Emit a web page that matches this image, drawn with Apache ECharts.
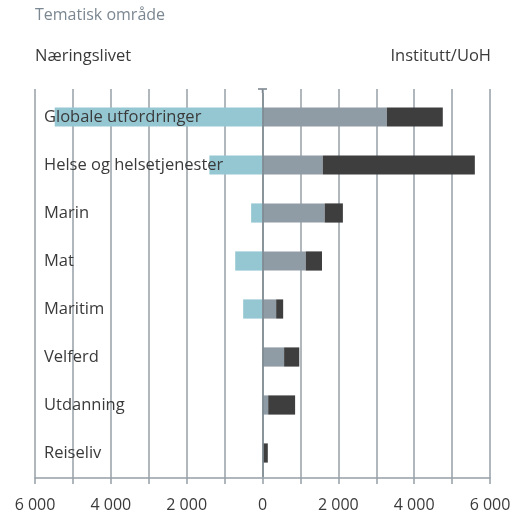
<!DOCTYPE html>
<html><head><meta charset="utf-8">
<script src="https://cdn.jsdelivr.net/npm/echarts@6/dist/echarts.min.js"></script>
<style>html,body{margin:0;padding:0;background:#fff}#c{width:514px;height:513px}</style>
</head><body><div id="c"></div>
<script>
const categories = ['Globale utfordringer','Helse og helsetjenester','Marin','Mat','Maritim','Velferd','Utdanning','Reiseliv'];
const naeringslivet = [-5480, -1400, -300, -720, -510, 0, 0, 0];
const institutt = [3280, 1590, 1640, 1140, 360, 570, 150, 20];
const uoh = [1475, 4010, 480, 430, 185, 400, 710, 120];
const tickLabels = ['6 000','4 000','2 000','0','2 000','4 000','6 000'];
const FONT = 'Open Sans';
const chart = echarts.init(document.getElementById('c'));
const fmt = v => {
  if (Math.abs(v) % 2000 !== 0) return '';
  return tickLabels[(v + 6000) / 2000];
};
const LC = '#97a0a7';
chart.setOption({
  animation: false,
  textStyle: {fontFamily: FONT},
  graphic: [
    {id:'t1', type:'text', left: 35, top: 7, style:{text:'Tematisk område', fill:'#7b8791', font:'16px "Open Sans"'}},
    {id:'t2', type:'text', left: 35, top: 48, style:{text:'Næringslivet', fill:'#3a3a3a', font:'16.5px "Open Sans"'}},
    {id:'t3', type:'text', right: 23, top: 48, style:{text:'Institutt/UoH', fill:'#3a3a3a', font:'16.5px "Open Sans"'}}
  ],
  grid: [
    {left: 35, right: 24, top: 89, bottom: 35},
    {left: 35, right: 24, top: 93, bottom: 36}
  ],
  xAxis: [{
    gridIndex: 0, type: 'value', min: -6000, max: 6000, interval: 1000,
    axisLine: {show: true, lineStyle: {color: LC, width: 1.5}},
    axisTick: {show: true, length: 6, lineStyle: {color: LC, width: 1.5}},
    splitLine: {show: true, lineStyle: {color: LC, width: 1.5}},
    axisLabel: {formatter: fmt, color: '#3a3a3a', fontSize: 16, fontFamily: FONT, margin: 19, showMinLabel: true, showMaxLabel: true, hideOverlap: false}
  }, {
    gridIndex: 1, type: 'value', min: -6000, max: 6000, interval: 1000, show: false
  }],
  yAxis: [{
    gridIndex: 0, type: 'category', data: categories, show: false
  }, {
    gridIndex: 1, type: 'category', data: categories, inverse: true, z: 10,
    axisLine: {show: false}, axisTick: {show: false}, splitLine: {show: false},
    axisLabel: {inside: true, margin: 9, color: '#3a3a3a', fontSize: 16.5, fontFamily: FONT, verticalAlign: 'middle', padding: [0,0,5,0]}
  }],
  series: [
    {name:'Næringslivet', type:'bar', stack:'a', xAxisIndex: 1, yAxisIndex: 1, data: naeringslivet, barWidth: '40%', itemStyle:{color:'#95c7d3'}, z: 2,
     markLine: {silent: true, symbol: ['none','none'], label:{show:false}, lineStyle:{color:'#7d8891', width:1.5, type:'solid'}, data:[{xAxis:0}]}},
    {name:'Institutt', type:'bar', stack:'a', xAxisIndex: 1, yAxisIndex: 1, data: institutt, barWidth: '40%', itemStyle:{color:'#909ca5'}, z: 2},
    {name:'UoH', type:'bar', stack:'a', xAxisIndex: 1, yAxisIndex: 1, data: uoh, barWidth: '40%', itemStyle:{color:'#3e3e3e'}, z: 2}
  ]
});
const zp = chart.convertToPixel({xAxisIndex:0, yAxisIndex:0}, [0, 0]);
const r0 = chart.getModel().getComponent('grid', 0).coordinateSystem.getRect();
const r1 = chart.getModel().getComponent('grid', 1).coordinateSystem.getRect();
chart.setOption({graphic: [
  {id:'cap', type:'line', shape:{x1:zp[0]-4.5, y1:r0.y, x2:zp[0]+4.5, y2:r0.y}, style:{stroke:LC, lineWidth:2}, z: 10},
  {id:'zext', type:'line', shape:{x1:zp[0], y1:r0.y, x2:zp[0], y2:r1.y}, style:{stroke:'#7d8891', lineWidth:1.5}, z: 10}
]});
</script></body></html>
